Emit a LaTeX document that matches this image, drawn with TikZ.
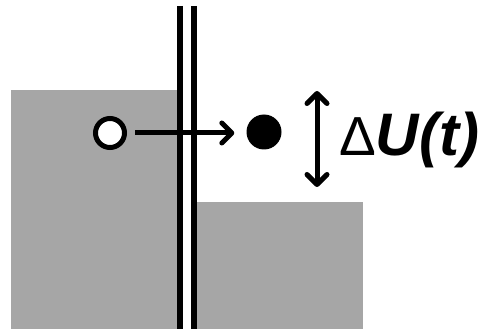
\documentclass[tikz,border=0pt]{standalone}
\usepackage{fontspec}
\setmainfont{Liberation Sans}
\usetikzlibrary{arrows.meta}
\definecolor{boxgray}{RGB}{166,166,166}
\tikzset{
  region/.style={fill=boxgray, draw=none},
  wall/.style={line width=5.8pt},
  hop/.style={line width=5pt, -{Straight Barb[length=10pt,width=20pt,round]}},
  level/.style={line width=5pt, {Straight Barb[length=10pt,width=20pt,round]}-{Straight Barb[length=10pt,width=20pt,round]}},
  dotopen/.style={circle, draw=black, fill=white, line width=5pt, minimum size=29pt, inner sep=0pt},
  dotfull/.style={circle, fill=black, minimum size=35pt, inner sep=0pt},
}
\begin{document}
\begin{tikzpicture}[x=1pt,y=-1pt]
\useasboundingbox (0,0) rectangle (479,331);
% gray regions
\fill[region] (11,90) rectangle (177.5,329);
\fill[region] (196.5,202) rectangle (362.5,329);
% double wall
\draw[wall] (180.3,6) -- (180.3,329);
\draw[wall] (194.3,6) -- (194.3,329);
% particles
\node[dotopen] (src) at (110,133) {};
\node[dotfull] (dst) at (264,132) {};
\draw[hop, shorten <=8pt, shorten >=12pt] (src.east) -- (dst.west |- src.east);
% energy difference
\coordinate (top) at (317,91);
\coordinate (bot) at (317,187);
\draw[level] (top) -- (bot);
\node[anchor=base west, inner sep=0pt] (lab) at (339,156) {{\fontsize{55}{60}\selectfont Δ}{\fontsize{60}{60}\selectfont\textbf{\textit{U(t)}}}};
\end{tikzpicture}
\end{document}
